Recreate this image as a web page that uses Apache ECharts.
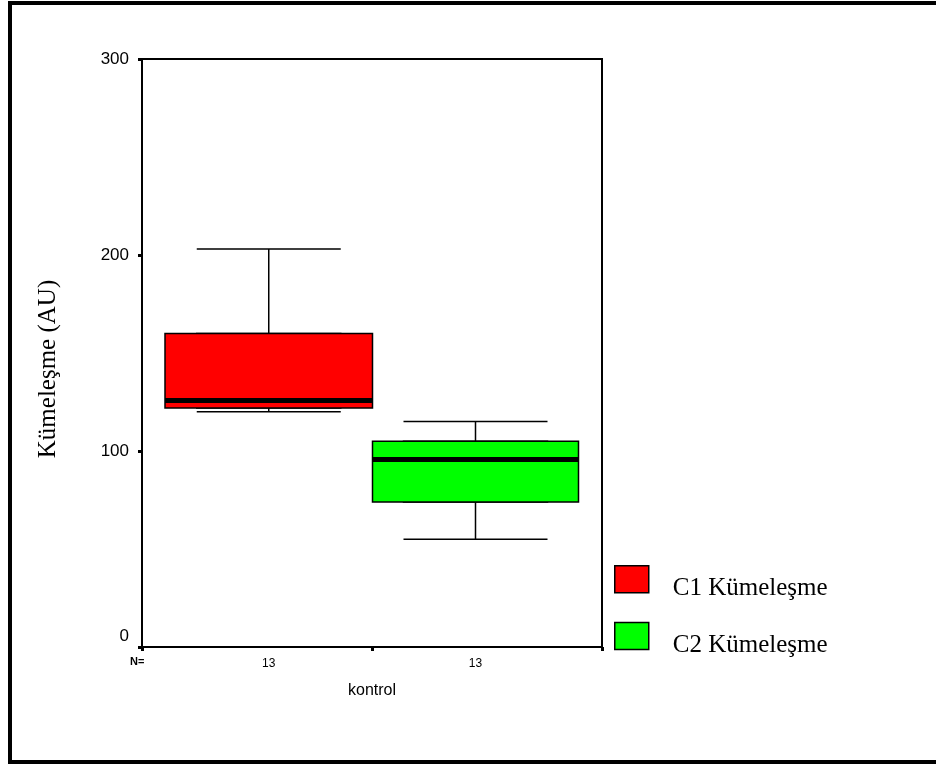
<!DOCTYPE html>
<html>
<head>
<meta charset="utf-8">
<script src="https://cdn.jsdelivr.net/npm/echarts@6/dist/echarts.min.js"></script>
<style>
  html, body { margin: 0; padding: 0; background: #fff; }
  #wrap { position: relative; width: 936px; height: 764px; overflow: hidden; }
  #frame { position: absolute; left: 8px; top: 1px; width: 1000px; height: 755px;
           border-left: 4px solid #000; border-top: 4px solid #000; border-bottom: 4px solid #000; }
  #chart { position: absolute; left: 0; top: 0; width: 936px; height: 764px; }
</style>
</head>
<body>
<div id="wrap">
  <div id="frame"></div>
  <div id="chart"></div>
</div>
<script>
// Box statistics: [min, Q1, median, Q3, max]
const groupNames = ['C1 Kümeleşme', 'C2 Kümeleşme'];
const c1Stats = [120, 122, 126, 160, 203];
const c2Stats = [55, 74, 96, 105, 115];
const groupN = ['13', '13'];
const groupColors = ['#ff0000', '#00ff00'];
const yMin = 0, yMax = 300, yStep = 100;
const categoryName = 'kontrol';
const yTitle = 'Kümeleşme (AU)';

const sans = 'Liberation Sans, Arial, sans-serif';
const serif = 'Liberation Serif, Times New Roman, serif';

const chart = echarts.init(document.getElementById('chart'), null, { renderer: 'canvas' });

// Whiskers with their narrower end caps (drawn underneath the box)
function whiskerSeries(name, stats, color, xIdx, yIdx) {
  return {
    name: name,
    type: 'boxplot',
    xAxisIndex: xIdx,
    yAxisIndex: yIdx,
    boxWidth: [144, 144],
    z: 1,
    data: [stats],
    itemStyle: { color: color, borderColor: '#000', borderWidth: 1.5 },
    emphasis: { disabled: true }
  };
}

// Full-width box from Q1 to Q3 with a heavy median bar
function boxSeries(name, stats, color, xIdx, yIdx) {
  const q1 = stats[1], med = stats[2], q3 = stats[3];
  return {
    name: name,
    type: 'boxplot',
    xAxisIndex: xIdx,
    yAxisIndex: yIdx,
    boxWidth: ['100%', '100%'],
    z: 2,
    data: [[q1, q1, med, q3, q3]],
    itemStyle: { color: color, borderColor: '#000', borderWidth: 1.5 },
    emphasis: { disabled: true },
    markLine: {
      silent: true,
      symbol: ['none', 'none'],
      label: { show: false },
      lineStyle: { color: '#000', width: 5, type: 'solid' },
      data: [{ yAxis: med }]
    }
  };
}

const hiddenY = (g) => ({
  type: 'value', gridIndex: g, min: yMin, max: yMax, interval: yStep, show: false
});

const boxX = (g, label) => ({
  type: 'category', gridIndex: g, data: [label],
  axisLine: { show: false }, axisTick: { show: false }, splitLine: { show: false },
  axisLabel: { color: '#000', fontFamily: sans, fontSize: 12, margin: 11 }
});

const hiddenX = (g) => ({ type: 'category', gridIndex: g, data: [''], show: false });

chart.setOption({
  animation: false,
  backgroundColor: 'transparent',
  grid: [
    { left: 142, top: 59, width: 460, height: 588, show: true,
      borderColor: '#000', borderWidth: 2, backgroundColor: 'transparent' },
    { left: 165, top: 59, width: 207.5, height: 588 },
    { left: 372.5, top: 59, width: 206, height: 588 }
  ],
  xAxis: [
    { type: 'category', gridIndex: 0, data: ['', ''],
      name: categoryName, nameLocation: 'middle', nameGap: 36,
      nameTextStyle: { color: '#000', fontFamily: sans, fontSize: 16 },
      axisLine: { lineStyle: { color: '#000', width: 2 } },
      axisTick: { show: true, length: 4, lineStyle: { color: '#000', width: 3 } },
      axisLabel: { show: false }, splitLine: { show: false } },
    boxX(1, groupN[0]),
    boxX(2, groupN[1]),
    hiddenX(1),
    hiddenX(2)
  ],
  yAxis: [
    { type: 'value', gridIndex: 0, min: yMin, max: yMax, interval: yStep,
      name: yTitle, nameLocation: 'middle', nameRotate: 90, nameGap: 81,
      nameTextStyle: { color: '#000', fontFamily: serif, fontSize: 25, padding: [0, 32, 0, 0] },
      axisLine: { show: true, lineStyle: { color: '#000', width: 2 } },
      axisTick: { show: true, length: 4, lineStyle: { color: '#000', width: 3 } },
      splitLine: { show: false },
      axisLabel: {
        color: '#000', fontFamily: sans, fontSize: 17, margin: 13,
        formatter: (v) => v === 0 ? '{z|0}' : String(v),
        rich: { z: { color: '#000', fontFamily: sans, fontSize: 17, padding: [0, 0, 22, 0] } }
      } },
    hiddenY(1),
    hiddenY(2)
  ],
  legend: {
    orient: 'vertical', left: 614, top: 565, padding: 0,
    itemWidth: 34, itemHeight: 27, itemGap: 21,
    icon: 'rect',
    selectedMode: false,
    data: groupNames.map((n, i) => ({
      name: n,
      itemStyle: { color: groupColors[i], borderColor: '#000', borderWidth: 1.5 }
    })),
    formatter: (n) => '{t|' + n + '}',
    textStyle: {
      color: '#000', fontFamily: serif, fontSize: 25, padding: [0, 0, 0, 19],
      rich: { t: { color: '#000', fontFamily: serif, fontSize: 25, padding: [18, 0, 0, 0] } }
    }
  },
  graphic: [
    { type: 'text', left: 130, top: 656,
      style: { text: 'N=', fill: '#000', font: 'bold 11px ' + sans } }
  ],
  series: [
    whiskerSeries('C1 whisker', c1Stats, groupColors[0], 3, 1),
    whiskerSeries('C2 whisker', c2Stats, groupColors[1], 4, 2),
    boxSeries(groupNames[0], c1Stats, groupColors[0], 1, 1),
    boxSeries(groupNames[1], c2Stats, groupColors[1], 2, 2)
  ]
});
</script>
</body>
</html>
